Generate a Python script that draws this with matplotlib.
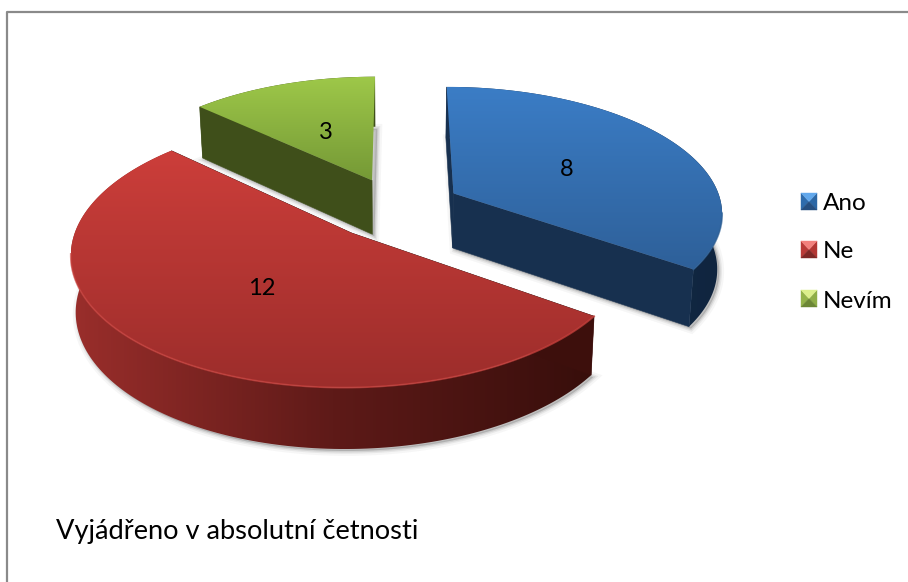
import numpy as np
import matplotlib.pyplot as plt
from matplotlib.patches import Polygon
from matplotlib.colors import LinearSegmentedColormap

plt.rcParams['font.family'] = ['Lato', 'DejaVu Sans']

categories = ['Ano', 'Ne', 'Nevím']
values = [8, 12, 3]
caption = 'Vyjádřeno v absolutní četnosti'

# colours per slice: top surface (far, near), cut face, outer wall stops, rim light
top_colors = [('#3B7DC6', '#2E6099'), ('#CC3E3A', '#9C2D2B'), ('#9EC849', '#759936')]
cut_colors = ['#17304F', '#3D0F0C', '#3F4F1A']
wall_colors = [('#16304F', '#10253F'), ('#9A2E2B', '#5E1A18', '#370E0B'), ('#3F4F1A', '#3F4F1A')]
rim_colors = ['#2F6299', '#C9423E', '#9EC849']
legend_colors = [('#62A8EC', '#2F6CAC', '#2C67A5', '#264F80'),
                 ('#F2807C', '#B93A37', '#B23633', '#7E2725'),
                 ('#DCEF8C', '#94B34A', '#8FAE47', '#6C8735')]

# projection of the pie plane onto the figure (pixels)
VX, Y0 = 397, 207
SX, SY = 269, 125
PERSP = 0.14
EXPLODE = 0.24
EXPLODE_SLICE = [0.24, 0.26, 0.24]
DEPTH = 55


def project(wx, wy):
    s = 1 / (1 + PERSP * wy)
    return VX + SX * wx * s, Y0 - SY * wy * s


def slice_point(theta, r, bisect, explode):
    # theta runs clockwise from 12 o'clock
    wx = explode * np.sin(bisect) + r * np.sin(theta)
    wy = explode * np.cos(bisect) + r * np.cos(theta)
    return project(wx, wy)


def drop(x, y, wy_scale):
    return VX + (x - VX) * 0.985, y + DEPTH * wy_scale ** 0.6


def gradient_fill(ax, poly, stops, vertical, zorder):
    # image clipped to the polygon, so the shading stays inside the slice outline
    pts = np.asarray(poly)
    x0, y0 = pts.min(axis=0)
    x1, y1 = pts.max(axis=0)
    cmap = LinearSegmentedColormap.from_list('g', stops)
    ramp = np.linspace(0, 1, 256)
    img = ramp[:, None] if vertical else ramp[None, :]
    im = ax.imshow(img, cmap=cmap, extent=(x0, x1, y1, y0), origin='upper',
                   aspect='auto', zorder=zorder, interpolation='bilinear')
    clip = Polygon(pts, closed=True, transform=ax.transData, fc='none', ec='none')
    ax.add_patch(clip)
    im.set_clip_path(clip)


fig = plt.figure(figsize=(9.08, 5.82), dpi=100)
ax = fig.add_axes([0, 0, 1, 1])

# chart frame, cut off at the right and bottom
ax.plot([7, 7, 908], [582, 12, 12], color='#8A8A8A', lw=1.6, zorder=1)

fractions = np.array(values) / sum(values) * 2 * np.pi
starts = np.concatenate(([0], np.cumsum(fractions)[:-1]))
centers = {}

# far slices first so the large one overlaps them
for order, i in enumerate([2, 0, 1]):
    z = 10 + order * 10
    t0, t1 = starts[i], starts[i] + fractions[i]
    bis = (t0 + t1) / 2
    thetas = np.linspace(t0, t1, 160)
    e = EXPLODE_SLICE[i]

    wx = e * np.sin(bis) + np.sin(thetas)
    wy = e * np.cos(bis) + np.cos(thetas)
    s = 1 / (1 + PERSP * wy)
    ax_x, ax_y = project(wx, wy)
    arc_top = np.column_stack((ax_x, ax_y))
    bx, by = drop(ax_x, ax_y, s)
    arc_bot = np.column_stack((bx, by))

    apex = np.array(slice_point(0, 0, bis, e))
    apex_s = 1 / (1 + PERSP * e * np.cos(bis))
    apex_b = np.array(drop(apex[0], apex[1], apex_s))

    # soft shadow around the lower outline
    shadow = np.vstack((apex_b, arc_bot)) + [2, 2]
    for lw, a in [(7, 0.05), (4, 0.09), (2, 0.14)]:
        ax.add_patch(Polygon(shadow, closed=True, fc='#555555', ec='#555555',
                             lw=lw, alpha=a, zorder=z))

    # outer wall
    wall = np.vstack((arc_top, arc_bot[::-1]))
    gradient_fill(ax, wall, wall_colors[i], False, z + 1)

    # the two cut faces; the right face of the small slice faces away
    for k in (0, -1):
        if i == 2 and k == -1:
            continue
        face = [apex, arc_top[k], arc_bot[k], apex_b]
        ax.add_patch(Polygon(face, closed=True, fc=cut_colors[i], ec=cut_colors[i],
                             lw=0.4, zorder=z + 2))

    # top surface
    top = np.vstack((apex, arc_top))
    gradient_fill(ax, top, top_colors[i], True, z + 3)

    # thin bevel light along the near part of the curved edge
    near = np.cos(thetas) < -0.15
    ax.plot(arc_top[near, 0], arc_top[near, 1], color=rim_colors[i], lw=1.3, alpha=0.7, zorder=z + 4)

    lx, ly = slice_point(bis, 0.5, bis, EXPLODE)
    centers[i] = (lx + 1, ly + 3)

for i, val in enumerate(values):
    ax.text(centers[i][0], centers[i][1], str(val), fontsize=17, color='black',
            ha='center', va='center', zorder=60)

# legend with bevelled square keys
for i, (name, y) in enumerate(zip(categories, [202, 250, 299])):
    x0, x1, y0, y1 = 801, 817, y - 9, y + 8
    mx, my = (x0 + x1) / 2, (y0 + y1) / 2
    light, left, right, dark = legend_colors[i]
    ax.add_patch(Polygon([(x0, y0), (x0, y1), (mx, my)], fc=left, ec=left, lw=0.3, zorder=60))
    ax.add_patch(Polygon([(x1, y0), (x1, y1), (mx, my)], fc=right, ec=right, lw=0.3, zorder=60))
    ax.add_patch(Polygon([(x0, y1), (x1, y1), (mx, my)], fc=dark, ec=dark, lw=0.3, zorder=60))
    ax.add_patch(Polygon([(x0, y0), (x1, y0), (mx, my)], fc=light, ec=light, lw=0.3, zorder=60))
    ax.text(823, y + 2, name, fontsize=17.5, color='black', ha='left', va='center', zorder=60)

ax.text(56, 532, caption, fontsize=19.6, color='black', ha='left', va='center', zorder=60)

ax.set_xlim(0, 908)
ax.set_ylim(582, 0)
ax.axis('off')

fig.savefig('out.png', dpi=100)
